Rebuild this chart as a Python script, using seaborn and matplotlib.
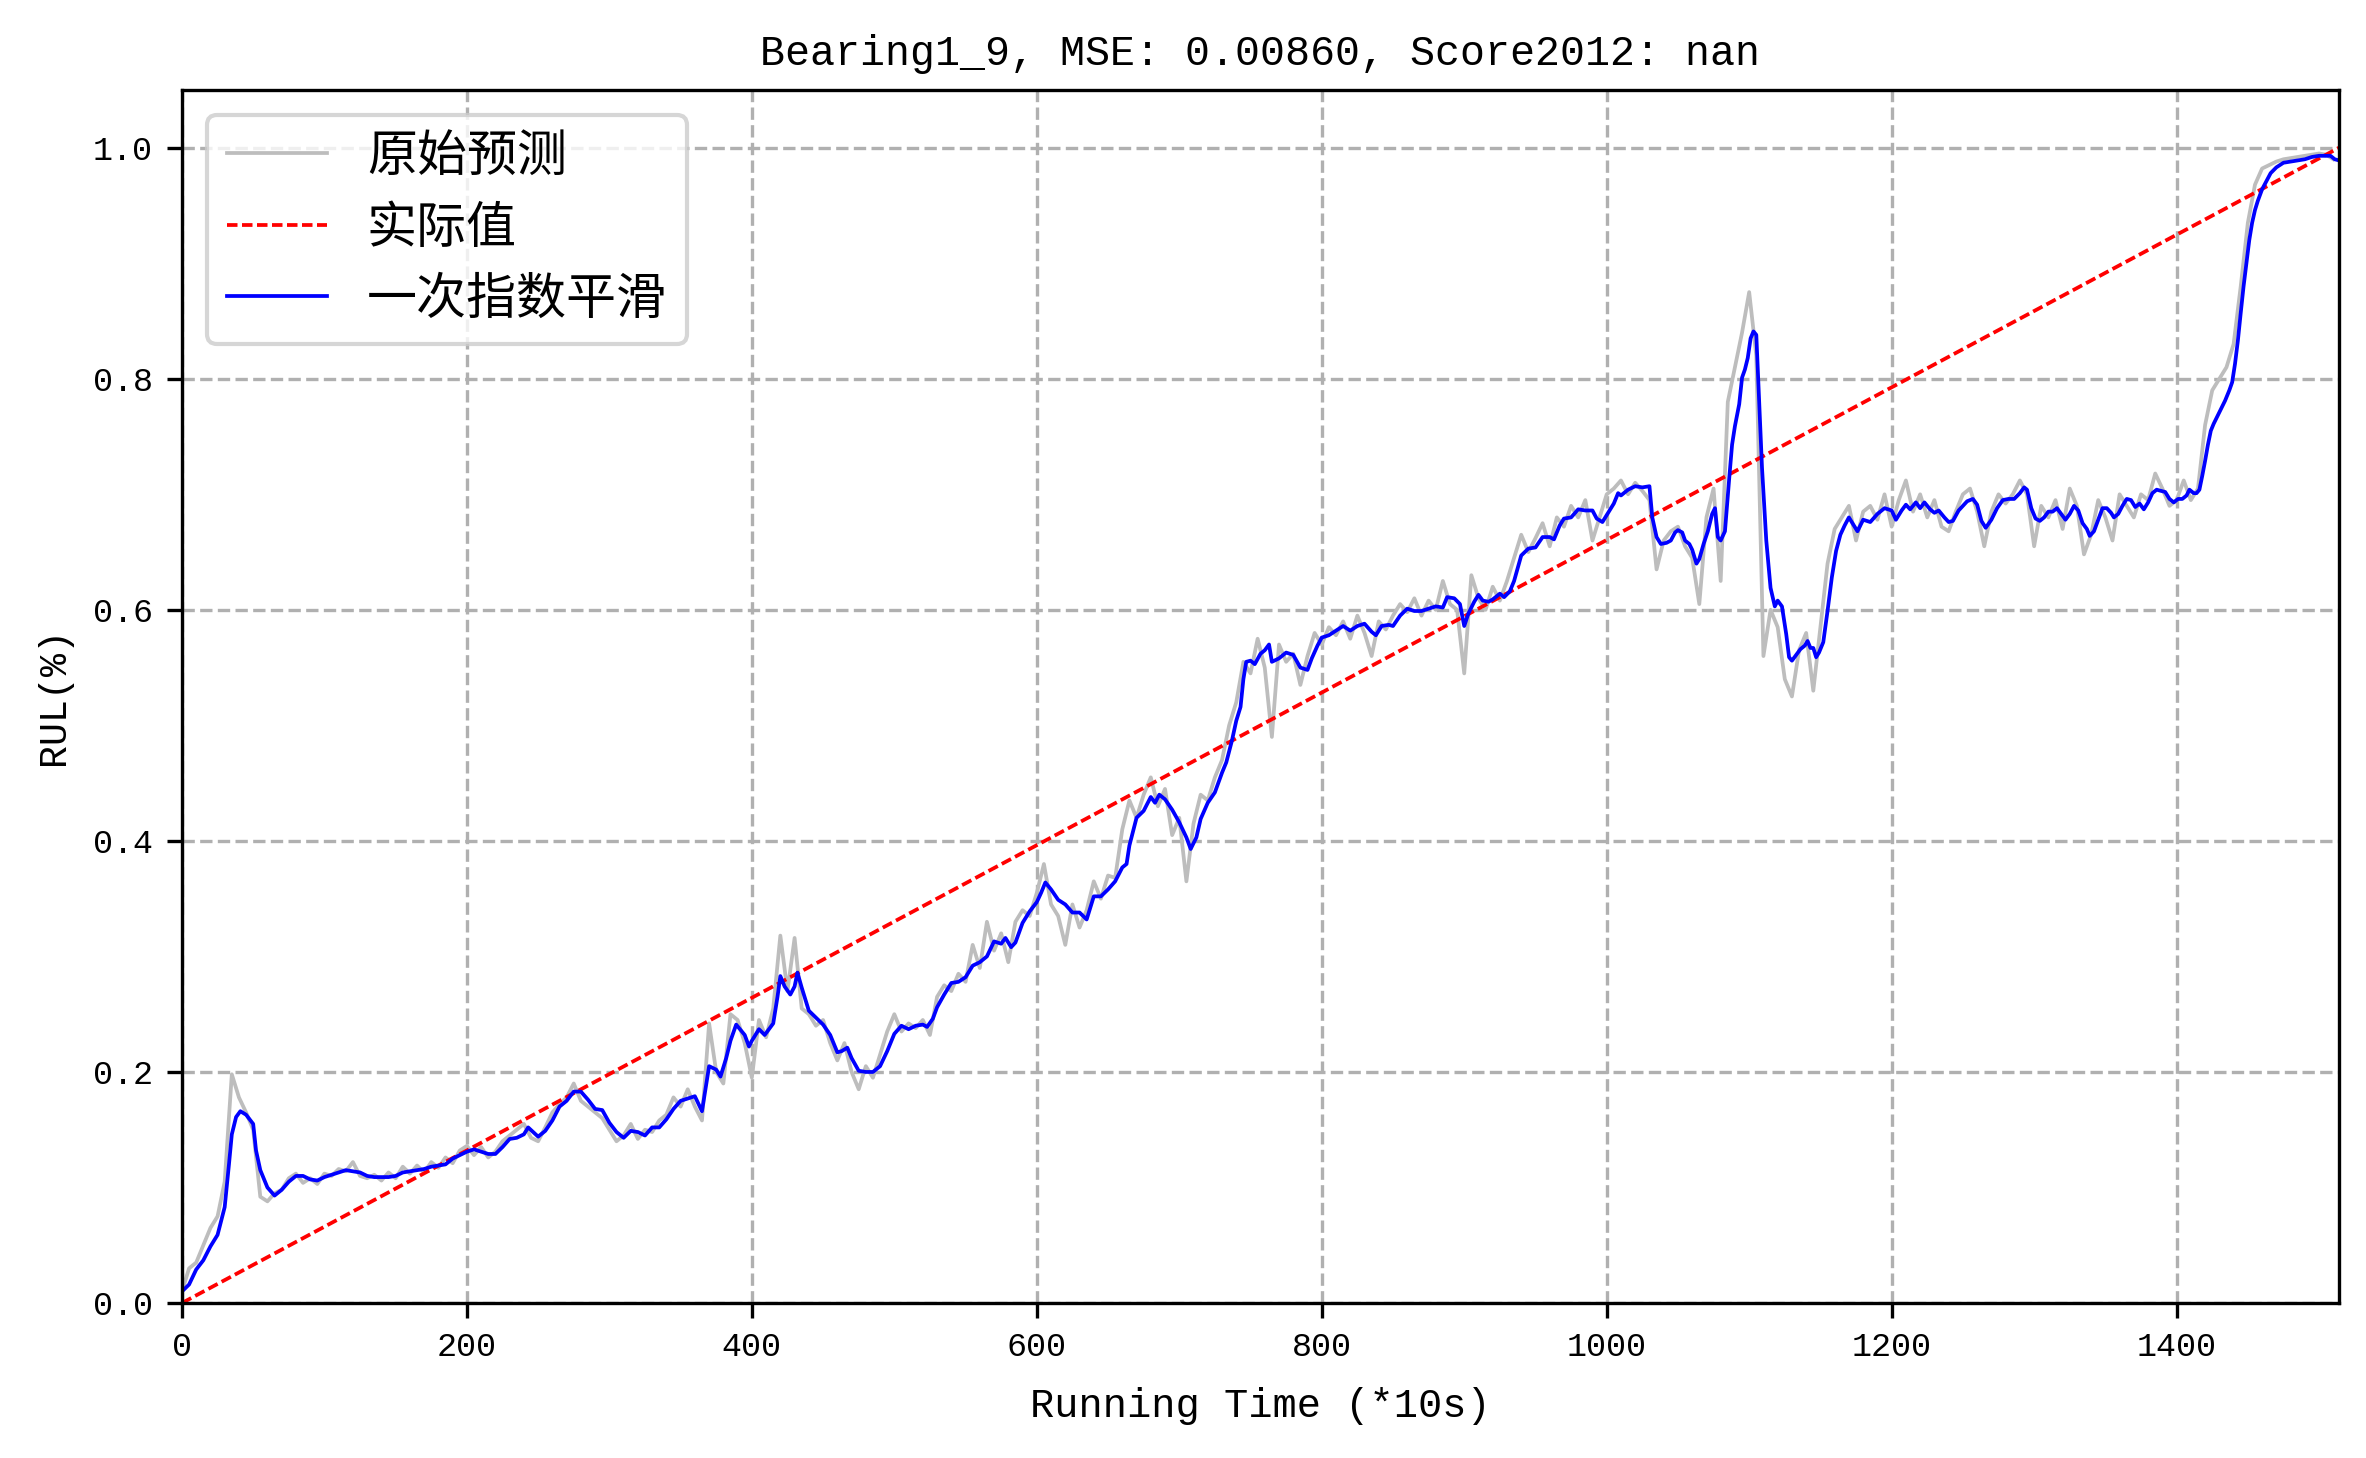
import numpy as np
import pandas as pd
import matplotlib
matplotlib.use("Agg")
import matplotlib.pyplot as plt
import seaborn as sns

# ============================================
# DADOS
# ============================================

titulo = "Bearing1_9, MSE: 0.00860, Score2012: nan"
legendas = ["原始预测", "实际值", "一次指数平滑"]

# previsão original (amostrada a cada 5 pontos)
raw_x = list(range(0, 1511, 5))
raw_y = [
    0.010, 0.030, 0.035, 0.050, 0.065, 0.075, 0.105, 0.198, 0.178, 0.165,
    0.150, 0.092, 0.088, 0.095, 0.098, 0.108, 0.112, 0.104, 0.108, 0.103,
    0.112, 0.110, 0.116, 0.114, 0.122, 0.110, 0.108, 0.111, 0.106, 0.113,
    0.108, 0.118, 0.112, 0.119, 0.113, 0.122, 0.117, 0.126, 0.121, 0.132,
    0.136, 0.128, 0.135, 0.126, 0.131, 0.140, 0.145, 0.150, 0.155, 0.143,
    0.140, 0.152, 0.165, 0.172, 0.178, 0.190, 0.175, 0.170, 0.165, 0.160,
    0.150, 0.140, 0.145, 0.155, 0.142, 0.150, 0.148, 0.158, 0.163, 0.178,
    0.170, 0.185, 0.170, 0.158, 0.242, 0.200, 0.190, 0.250, 0.245, 0.225,
    0.195, 0.245, 0.230, 0.255, 0.318, 0.270, 0.316, 0.255, 0.250, 0.240,
    0.245, 0.225, 0.210, 0.225, 0.200, 0.185, 0.205, 0.195, 0.215, 0.235,
    0.250, 0.235, 0.242, 0.238, 0.245, 0.232, 0.265, 0.275, 0.270, 0.285,
    0.278, 0.310, 0.290, 0.330, 0.305, 0.320, 0.295, 0.330, 0.340, 0.335,
    0.355, 0.380, 0.345, 0.335, 0.310, 0.345, 0.325, 0.340, 0.365, 0.350,
    0.370, 0.368, 0.410, 0.435, 0.420, 0.440, 0.455, 0.430, 0.445, 0.405,
    0.420, 0.365, 0.415, 0.440, 0.435, 0.455, 0.470, 0.500, 0.520, 0.555,
    0.545, 0.575, 0.550, 0.490, 0.570, 0.555, 0.562, 0.535, 0.560, 0.580,
    0.570, 0.585, 0.578, 0.590, 0.575, 0.595, 0.580, 0.560, 0.590, 0.583,
    0.595, 0.605, 0.598, 0.610, 0.595, 0.608, 0.600, 0.625, 0.605, 0.600,
    0.545, 0.630, 0.610, 0.600, 0.620, 0.608, 0.625, 0.645, 0.665, 0.650,
    0.662, 0.675, 0.655, 0.680, 0.672, 0.690, 0.680, 0.695, 0.660, 0.680,
    0.700, 0.705, 0.712, 0.700, 0.710, 0.703, 0.695, 0.635, 0.660, 0.668,
    0.672, 0.655, 0.645, 0.605, 0.680, 0.705, 0.625, 0.780, 0.810, 0.840,
    0.875, 0.820, 0.560, 0.600, 0.585, 0.540, 0.525, 0.565, 0.580, 0.530,
    0.585, 0.640, 0.670, 0.680, 0.690, 0.660, 0.685, 0.690, 0.678, 0.700,
    0.672, 0.695, 0.712, 0.685, 0.700, 0.680, 0.695, 0.672, 0.668, 0.685,
    0.700, 0.705, 0.685, 0.655, 0.685, 0.700, 0.692, 0.700, 0.712, 0.700,
    0.655, 0.690, 0.680, 0.695, 0.670, 0.705, 0.690, 0.648, 0.665, 0.695,
    0.680, 0.660, 0.700, 0.690, 0.680, 0.700, 0.695, 0.718, 0.705, 0.690,
    0.695, 0.712, 0.695, 0.705, 0.760, 0.790, 0.800, 0.810, 0.830, 0.880,
    0.935, 0.968, 0.982, 0.985, 0.988, 0.990, 0.991, 0.992, 0.993, 0.994,
    0.995, 0.994, 0.990,
]

# valor real (RUL linear)
real_x = [0, 1514]
real_y = [0.0, 1.0]

# suavização exponencial simples
suave_x = [
    0, 5, 10, 15, 20, 25, 30, 33, 35, 38, 41, 45, 50, 52, 55, 60, 65, 70, 75, 80,
    85, 90, 95, 100, 105, 110, 115, 120, 125, 130, 135, 140, 145, 150, 155, 160,
    165, 170, 175, 180, 185, 190, 195, 200, 205, 210, 215, 220, 225, 230, 235,
    240, 243, 250, 255, 260, 265, 270, 275, 280, 285, 290, 295, 300, 305, 310,
    315, 320, 325, 330, 335, 340, 345, 350, 355, 360, 365, 370, 375, 378, 382,
    385, 389, 395, 398, 400, 405, 409, 412, 415, 418, 420, 423, 427, 430, 432,
    435, 440, 445, 450, 455, 460, 463, 467, 470, 475, 480, 485, 490, 495, 500,
    505, 510, 515, 520, 523, 527, 530, 535, 540, 545, 550, 555, 560, 565, 570,
    575, 578, 582, 585, 590, 595, 600, 603, 606, 610, 615, 620, 625, 630, 635,
    640, 645, 650, 655, 660, 663, 665, 670, 675, 680, 683, 686, 690, 695, 700,
    705, 708, 712, 715, 720, 725, 730, 733, 737, 740, 743, 745, 747, 750, 753,
    757, 760, 763, 765, 770, 775, 780, 785, 790, 793, 797, 800, 805, 810, 815,
    820, 825, 830, 835, 838, 842, 847, 850, 855, 860, 865, 870, 875, 880, 885,
    888, 893, 897, 900, 903, 907, 910, 913, 917, 920, 925, 928, 932, 935, 940,
    945, 950, 955, 960, 963, 967, 970, 975, 980, 985, 990, 993, 997, 1000, 1005,
    1008, 1010, 1015, 1020, 1025, 1030, 1032, 1035, 1038, 1042, 1045, 1048,
    1050, 1053, 1055, 1058, 1060, 1063, 1065, 1068, 1071, 1074, 1076, 1078,
    1080, 1083, 1086, 1088, 1090, 1093, 1095, 1097, 1099, 1101, 1103, 1105,
    1107, 1109, 1112, 1115, 1118, 1120, 1123, 1126, 1128, 1130, 1133, 1136,
    1139, 1141, 1143, 1145, 1147, 1149, 1152, 1155, 1158, 1161, 1164, 1167,
    1170, 1173, 1176, 1180, 1185, 1190, 1195, 1200, 1203, 1207, 1210, 1213,
    1217, 1220, 1223, 1227, 1230, 1233, 1237, 1240, 1243, 1247, 1250, 1253,
    1257, 1260, 1263, 1266, 1270, 1274, 1278, 1282, 1286, 1290, 1293, 1295,
    1298, 1301, 1304, 1307, 1310, 1313, 1316, 1319, 1322, 1325, 1328, 1331,
    1334, 1337, 1339, 1342, 1345, 1348, 1351, 1354, 1356, 1359, 1362, 1365,
    1368, 1371, 1374, 1377, 1380, 1383, 1386, 1389, 1392, 1395, 1398, 1401,
    1404, 1407, 1409, 1412, 1414, 1416, 1418, 1420, 1422, 1424, 1426, 1430,
    1434, 1437, 1439, 1441, 1443, 1445, 1447, 1449, 1451, 1453, 1455, 1457,
    1460, 1463, 1466, 1470, 1475, 1480, 1485, 1490, 1495, 1500, 1505, 1508,
    1511, 1514,
]
suave_y = [
    0.010, 0.016, 0.029, 0.037, 0.049, 0.059, 0.083, 0.120, 0.146, 0.161, 0.166,
    0.163, 0.155, 0.132, 0.115, 0.100, 0.093, 0.098, 0.105, 0.110, 0.110, 0.107,
    0.106, 0.109, 0.111, 0.113, 0.115, 0.114, 0.113, 0.110, 0.109, 0.109, 0.109,
    0.110, 0.113, 0.114, 0.115, 0.116, 0.118, 0.119, 0.120, 0.125, 0.128, 0.131,
    0.133, 0.131, 0.129, 0.129, 0.135, 0.142, 0.143, 0.146, 0.152, 0.144, 0.149,
    0.158, 0.170, 0.175, 0.183, 0.183, 0.176, 0.168, 0.167, 0.156, 0.148, 0.143,
    0.149, 0.148, 0.145, 0.152, 0.152, 0.159, 0.168, 0.175, 0.177, 0.179, 0.166,
    0.205, 0.202, 0.196, 0.212, 0.227, 0.241, 0.232, 0.222, 0.227, 0.237, 0.232,
    0.237, 0.242, 0.265, 0.283, 0.274, 0.267, 0.274, 0.286, 0.273, 0.253, 0.247,
    0.241, 0.232, 0.217, 0.218, 0.221, 0.212, 0.201, 0.200, 0.200, 0.205, 0.218,
    0.233, 0.240, 0.237, 0.240, 0.241, 0.239, 0.246, 0.256, 0.267, 0.277, 0.278,
    0.282, 0.292, 0.295, 0.300, 0.313, 0.311, 0.316, 0.308, 0.312, 0.329, 0.339,
    0.347, 0.355, 0.364, 0.358, 0.349, 0.345, 0.338, 0.338, 0.332, 0.352, 0.352,
    0.358, 0.365, 0.377, 0.380, 0.396, 0.420, 0.426, 0.438, 0.433, 0.440, 0.436,
    0.427, 0.416, 0.403, 0.393, 0.403, 0.419, 0.433, 0.442, 0.459, 0.468, 0.487,
    0.504, 0.516, 0.540, 0.555, 0.556, 0.553, 0.562, 0.565, 0.570, 0.555, 0.558,
    0.563, 0.561, 0.550, 0.548, 0.558, 0.569, 0.576, 0.578, 0.582, 0.586, 0.582,
    0.586, 0.588, 0.581, 0.578, 0.586, 0.587, 0.586, 0.595, 0.601, 0.599, 0.599,
    0.601, 0.603, 0.602, 0.611, 0.610, 0.605, 0.586, 0.597, 0.607, 0.613, 0.608,
    0.607, 0.609, 0.614, 0.611, 0.616, 0.625, 0.647, 0.653, 0.654, 0.663, 0.663,
    0.661, 0.673, 0.679, 0.680, 0.687, 0.686, 0.686, 0.679, 0.676, 0.682, 0.692,
    0.701, 0.699, 0.704, 0.707, 0.706, 0.707, 0.680, 0.663, 0.657, 0.658, 0.660,
    0.667, 0.669, 0.667, 0.660, 0.657, 0.652, 0.640, 0.644, 0.657, 0.668, 0.683,
    0.688, 0.663, 0.660, 0.668, 0.714, 0.743, 0.759, 0.778, 0.801, 0.808, 0.818,
    0.835, 0.841, 0.838, 0.781, 0.723, 0.660, 0.619, 0.603, 0.608, 0.603, 0.579,
    0.559, 0.556, 0.561, 0.566, 0.569, 0.573, 0.567, 0.567, 0.559, 0.563, 0.572,
    0.599, 0.628, 0.651, 0.665, 0.673, 0.680, 0.674, 0.668, 0.678, 0.676, 0.683,
    0.688, 0.686, 0.678, 0.686, 0.691, 0.687, 0.693, 0.688, 0.693, 0.687, 0.684,
    0.686, 0.680, 0.676, 0.677, 0.686, 0.690, 0.694, 0.696, 0.691, 0.677, 0.671,
    0.678, 0.688, 0.695, 0.696, 0.696, 0.701, 0.706, 0.704, 0.688, 0.679, 0.677,
    0.680, 0.685, 0.685, 0.688, 0.683, 0.678, 0.683, 0.690, 0.686, 0.675, 0.670,
    0.664, 0.668, 0.678, 0.688, 0.688, 0.684, 0.680, 0.683, 0.690, 0.696, 0.695,
    0.689, 0.692, 0.687, 0.693, 0.701, 0.704, 0.703, 0.702, 0.696, 0.693, 0.696,
    0.696, 0.699, 0.704, 0.701, 0.701, 0.704, 0.716, 0.729, 0.743, 0.755, 0.761,
    0.771, 0.781, 0.790, 0.797, 0.813, 0.833, 0.857, 0.880, 0.900, 0.920, 0.935,
    0.946, 0.954, 0.964, 0.971, 0.978, 0.983, 0.987, 0.988, 0.989, 0.990, 0.992,
    0.993, 0.993, 0.993, 0.990, 0.989,
]

# ============================================
# ESTILO / FONTES
# ============================================

plt.rcParams["font.family"] = ["Liberation Mono", "Noto Sans CJK SC"]
plt.rcParams["axes.unicode_minus"] = False

# ============================================
# GRÁFICO
# ============================================

fig = plt.figure(figsize=(2366 / 300, 1458 / 300), dpi=300)
ax = fig.add_axes([0.0769, 0.1063, 0.9117, 0.8320])

sns.lineplot(x=raw_x, y=raw_y, color="#bdbdbd", lw=0.9, label=legendas[0],
             sort=False, estimator=None, ax=ax)
sns.lineplot(x=real_x, y=real_y, color="red", lw=0.9, dashes=False,
             label=legendas[1], sort=False, estimator=None, ax=ax)
ax.lines[-1].set_dashes((2.8, 1.2))
sns.lineplot(x=suave_x, y=suave_y, color="blue", lw=0.9, label=legendas[2],
             sort=False, estimator=None, ax=ax)

ax.set_xlim(0, 1514)
ax.set_ylim(0, 1.05)
ax.set_xticks([0, 200, 400, 600, 800, 1000, 1200, 1400])
ax.set_yticks([0.0, 0.2, 0.4, 0.6, 0.8, 1.0])
ax.tick_params(labelsize=8)

ax.grid(True, linestyle="--", color="#b0b0b0", lw=0.8)
ax.set_axisbelow(True)

ax.set_title(titulo, fontsize=10)
ax.set_xlabel("Running Time (*10s)", fontsize=9.7, labelpad=5.8)
ax.set_ylabel("RUL(%)", fontsize=9.2, labelpad=5)
ax.legend(loc="upper left", fontsize=12)

fig.savefig("out.png", dpi=300)
plt.close()
